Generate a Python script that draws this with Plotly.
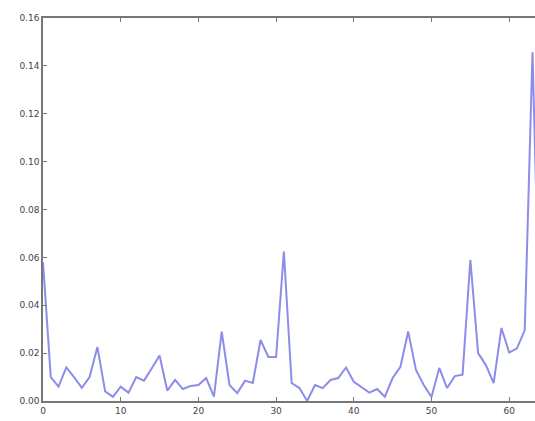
import plotly.graph_objects as go

x_values = list(range(65))
y_values = [
    0.058, 0.010, 0.006, 0.014, 0.010, 0.0055, 0.010, 0.0226, 0.004, 0.0017,
    0.006, 0.0035, 0.010, 0.0085, 0.0137, 0.019, 0.0043, 0.0088, 0.005, 0.0063,
    0.0067, 0.0096, 0.0018, 0.029, 0.0067, 0.0033, 0.0085, 0.0075, 0.0255, 0.0184,
    0.0184, 0.0624, 0.0075, 0.0054, 0.0, 0.0067, 0.0054, 0.0088, 0.0096, 0.014,
    0.008, 0.0058, 0.0035, 0.005, 0.0018, 0.0096, 0.0143, 0.029, 0.013, 0.0067,
    0.0017, 0.0138, 0.0054, 0.0104, 0.011, 0.059, 0.020, 0.015, 0.0075, 0.0305,
    0.0202, 0.022, 0.0296, 0.1457, 0.020,
]
x_ticks = [0, 10, 20, 30, 40, 50, 60]
y_ticks = [0.00, 0.02, 0.04, 0.06, 0.08, 0.10, 0.12, 0.14, 0.16]

fig = go.Figure()
fig.add_trace(go.Scatter(
    x=x_values, y=y_values, mode="lines",
    line=dict(color="rgba(95,95,225,0.72)", width=2),
    showlegend=False, hoverinfo="skip",
))

axis_common = dict(
    showgrid=False, zeroline=False, showline=True, linecolor="#777777", linewidth=1.5,
    ticks="inside", ticklen=4, tickcolor="#777777",
    tickfont=dict(family="DejaVu Sans", size=9, color="#444444"),
)
fig.update_xaxes(range=[0, 63.32], tickvals=x_ticks, mirror="ticks", **axis_common)
fig.update_yaxes(range=[0, 0.16], tickvals=y_ticks, tickformat=".2f", mirror=False, **axis_common)

fig.update_layout(
    width=535, height=421,
    margin=dict(l=43, r=0, t=18, b=20),
    paper_bgcolor="white", plot_bgcolor="white",
)
fig.write_html(
    "out.html",
    config={"displayModeBar": False},
    post_script="document.body.style.margin='0';",
)
